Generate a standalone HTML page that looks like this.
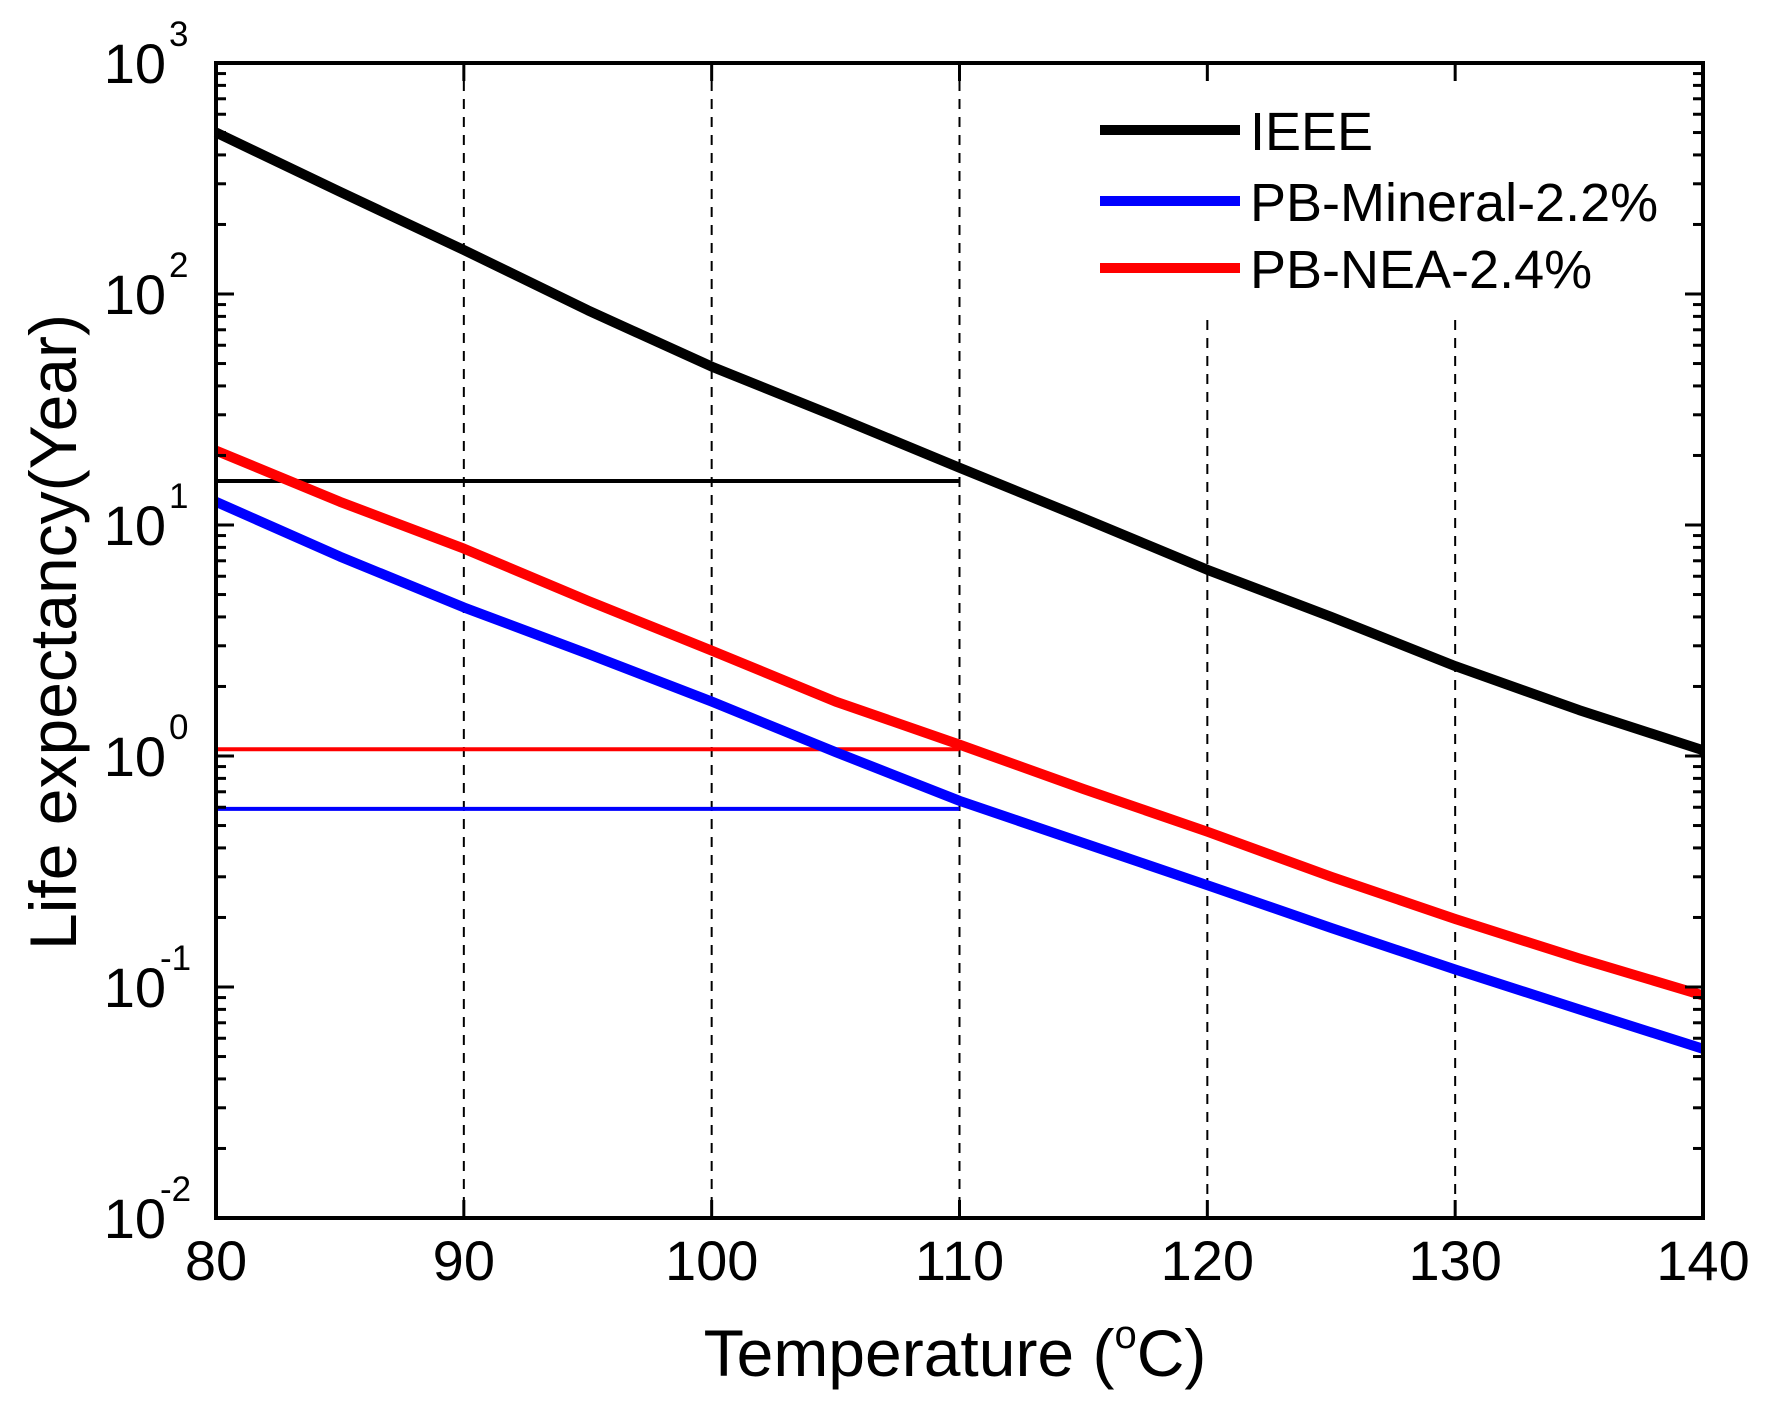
<!DOCTYPE html>
<html><head><meta charset="utf-8"><style>
html,body{margin:0;padding:0;background:#fff;}
svg{display:block;font-family:"Liberation Sans",Arial,sans-serif;}
</style></head><body>
<svg id="chart" width="1771" height="1409" viewBox="0 0 1771 1409" xmlns="http://www.w3.org/2000/svg">
<g id="grid"></g>
<g id="series"></g>
<g id="axes"></g>
<g id="legend"></g>
</svg>
<script>
const temps = [80,85,90,95,100,105,110,115,120,125,130,135,140];
const ieeeValues = [500,277,155,85,48.5,29.5,17.7,10.7,6.4,4.0,2.45,1.58,1.06];
const mineralValues = [12.6,7.3,4.4,2.77,1.72,1.04,0.64,0.42,0.276,0.18,0.119,0.08,0.054];
const neaValues = [21,12.6,7.9,4.7,2.86,1.72,1.12,0.72,0.47,0.30,0.197,0.133,0.092];
const refTemps = [80,110];
const refValues = [15.5,1.07,0.59];
const xTicks = [80,90,100,110,120,130,140];
const yExps = [3,2,1,0,-1,-2];
const legendLabels = ['IEEE','PB-Mineral-2.2%','PB-NEA-2.4%'];

const L=216,R=1703,T=63,B=1218;
const NS='http://www.w3.org/2000/svg';
function X(t){return L+(t-80)/60*(R-L);}
function Y(v){return T+(3-Math.log10(v))/5*(B-T);}
function mk(tag,attrs,parent){const e=document.createElementNS(NS,tag);for(const k in attrs)e.setAttribute(k,attrs[k]);parent.appendChild(e);return e;}
const grid=document.getElementById('grid'),series=document.getElementById('series'),axes=document.getElementById('axes'),legend=document.getElementById('legend');

xTicks.slice(1,-1).forEach(t=>{
  const top = t>=120 ? 320 : T;
  const g=mk('line',{x1:X(t),x2:X(t),y1:top,y2:B,stroke:'#000','stroke-width':2,'stroke-dasharray':'10 8'},grid);
  
  
});

function poly(vals,color,w,name){
  const d=temps.map((t,i)=>(i?'L':'M')+X(t).toFixed(1)+' '+Y(vals[i]).toFixed(1)).join(' ');
  const p=mk('path',{d:d,fill:'none',stroke:color,'stroke-width':w,'stroke-linejoin':'round'},series);
  
  
}
const refColors=['#000','#ff0000','#0000ff'];
const refNames=['ieee-reference-line','nea-reference-line','mineral-reference-line'];
refValues.forEach((v,i)=>{
  const l=mk('line',{x1:X(refTemps[0]),x2:X(refTemps[1]),y1:Y(v),y2:Y(v),stroke:refColors[i],'stroke-width':4},series);
  
  
});
poly(ieeeValues,'#000',10,'ieee-line');
poly(mineralValues,'#0000ff',10,'pb-mineral-line');
poly(neaValues,'#ff0000',10,'pb-nea-line');

const fr=mk('rect',{x:L,y:T,width:R-L,height:B-T,fill:'none',stroke:'#000','stroke-width':4},axes);


xTicks.forEach(t=>{
  mk('line',{x1:X(t),x2:X(t),y1:B,y2:B-18,stroke:'#000','stroke-width':3},axes);
  mk('line',{x1:X(t),x2:X(t),y1:T,y2:T+18,stroke:'#000','stroke-width':3},axes);
  const tx=mk('text',{x:X(t),y:1280,'font-size':56,'text-anchor':'middle',fill:'#000'},axes);
  tx.textContent=t;
  
  
});
yExps.forEach(e=>{
  const y=Y(Math.pow(10,e));
  mk('line',{x1:L,x2:L+18,y1:y,y2:y,stroke:'#000','stroke-width':3},axes);
  mk('line',{x1:R,x2:R-18,y1:y,y2:y,stroke:'#000','stroke-width':3},axes);
  const tx=mk('text',{x:166,y:y+20,'font-size':56,'text-anchor':'end',fill:'#000'},axes);
  tx.textContent='10';
  
  
  const sp=mk('text',{x:e<0?160:169,y:y-17,'font-size':35,'text-anchor':'start',fill:'#000'},axes);
  sp.textContent=e<0?'-'+Math.abs(e):String(e);
  
  
});
for(let e=-2;e<3;e++){for(let m=2;m<=9;m++){const y=Y(m*Math.pow(10,e));
  mk('line',{x1:L,x2:L+10,y1:y,y2:y,stroke:'#000','stroke-width':3},axes);
  mk('line',{x1:R,x2:R-10,y1:y,y2:y,stroke:'#000','stroke-width':3},axes);}}
const xt=mk('text',{x:955,y:1376,'font-size':66,'text-anchor':'middle',fill:'#000'},axes);
xt.innerHTML='Temperature (<tspan font-size="40" dy="-28">o</tspan><tspan dy="28">C)</tspan>';


const yt=mk('text',{x:0,y:0,'font-size':66,'text-anchor':'middle',fill:'#000',transform:'translate(76,632) rotate(-90)'},axes);
yt.textContent='Life expectancy(Year)';


const legColors=['#000','#0000ff','#ff0000'];
const legY=[130,201,268];
legendLabels.forEach((lab,i)=>{
  const l=mk('line',{x1:1100,x2:1240,y1:legY[i],y2:legY[i],stroke:legColors[i],'stroke-width':10},legend);
  
  
  const t=mk('text',{x:1250,y:legY[i]+20,'font-size':54,fill:'#000'},legend);
  t.textContent=lab;
  
  
});
</script>
</body></html>
